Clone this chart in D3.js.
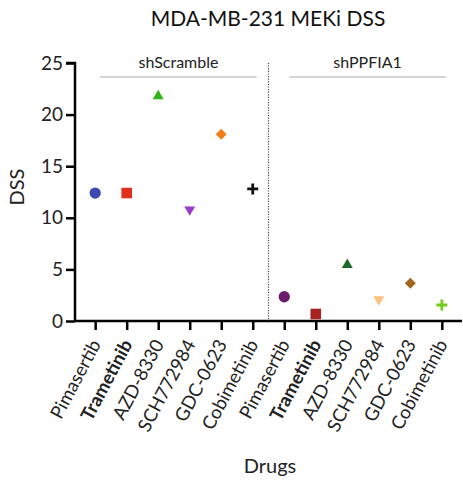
<!DOCTYPE html>
<html>
<head>
<meta charset="utf-8">
<script src="https://cdn.jsdelivr.net/npm/d3@7"></script>
<style>
  body { margin: 0; background: #fff; }
  text { font-family: Lato, "Open Sans", sans-serif; }
</style>
</head>
<body>
<div id="chart"></div>
<script>
// drug names (shown twice, once per group)
var drugs = ["Pimasertib", "Trametinib", "AZD-8330", "SCH772984", "GDC-0623", "Cobimetinib"];
var groups = ["shScramble", "shPPFIA1"];
var scrambleValues = [12.4, 12.4, 21.8, 10.8, 18.1, 12.8];
var ppfiaValues = [2.35, 0.68, 5.45, 2.1, 3.65, 1.55];
var yTicks = [0, 5, 10, 15, 20, 25];

var scrambleColors = ["#3f48b0", "#e0301e", "#2fb515", "#9a3dc8", "#f27e14", "#111111"];
var ppfiaColors = ["#6e1b6b", "#a82222", "#1f6a2b", "#ffc07f", "#a2661f", "#72cc1c"];
var shapes = ["circle", "square", "triangle", "down", "diamond", "plus"];

var svgWidth = 463, svgHeight = 481;
var margin = {top: 63, left: 75, right: 1, bottom: 160};
var width = svgWidth - margin.left - margin.right;
var height = svgHeight - margin.top - margin.bottom;

var svg = d3.select("#chart").append("svg")
  .attr("width", svgWidth)
  .attr("height", svgHeight);

var chartGroup = svg.append("g")
  .attr("transform", `translate(${margin.left}, ${margin.top})`);

// one point per drug per group
var data = [];
groups.forEach(function(g, gi) {
  drugs.forEach(function(d, i) {
    data.push({
      key: g + "|" + d,
      drug: d,
      group: g,
      value: gi === 0 ? scrambleValues[i] : ppfiaValues[i],
      color: gi === 0 ? scrambleColors[i] : ppfiaColors[i],
      shape: shapes[i]
    });
  });
});

var xScale = d3.scalePoint()
  .domain(data.map(d => d.key))
  .range([0, width])
  .padding(0.64);

var yScale = d3.scaleLinear()
  .domain([0, 25])
  .range([height, 0]);

// y axis
var leftAxis = d3.axisLeft(yScale).tickValues(yTicks).tickSize(9).tickPadding(3);
var yAxis = chartGroup.append("g").call(leftAxis);
yAxis.select(".domain").attr("stroke-width", 2.5).attr("d", `M-9,0H0V${height}`);
yAxis.selectAll(".tick line").attr("stroke-width", 2.5);
yAxis.selectAll("text").attr("font-size", "19px").attr("fill", "#222")
  .style("font-family", "Lato, sans-serif");

// x axis
var bottomAxis = d3.axisBottom(xScale).tickSize(9).tickFormat(k => k.split("|")[1]);
var xAxis = chartGroup.append("g")
  .attr("transform", `translate(0, ${height})`)
  .call(bottomAxis);
xAxis.select(".domain").attr("stroke-width", 2.5).attr("d", `M0,0H${width}`);
xAxis.selectAll(".tick line").attr("stroke-width", 2.5);
xAxis.selectAll("text")
  .attr("font-size", "18.5px")
  .attr("fill", "#222")
  .style("font-family", "Lato, sans-serif")
  .attr("font-weight", d => d.split("|")[1] === "Trametinib" ? "bold" : null)
  .attr("text-anchor", "end")
  .attr("dy", "0.35em")
  .attr("transform", "translate(0, 20) rotate(-62)")
  .attr("x", 0)
  .attr("y", 0);

// dotted separator between groups
var keys = xScale.domain();
var sepX = (xScale(keys[5]) + xScale(keys[6])) / 2;
chartGroup.append("line")
  .attr("x1", sepX).attr("x2", sepX)
  .attr("y1", 0).attr("y2", height)
  .attr("stroke", "#444")
  .attr("stroke-width", 1.2)
  .attr("stroke-dasharray", "1.2,1.4");

// group labels with a line underneath
groups.forEach(function(g, gi) {
  var x0 = xScale(keys[gi * 6]) + 5;
  var x1 = xScale(keys[gi * 6 + 5]) + 4;
  chartGroup.append("line")
    .attr("x1", x0).attr("x2", x1)
    .attr("y1", 14).attr("y2", 14)
    .attr("stroke", "#aaa")
    .attr("stroke-width", 1);
  chartGroup.append("text")
    .attr("x", (x0 + x1) / 2)
    .attr("y", 5)
    .attr("text-anchor", "middle")
    .attr("font-size", "16px")
    .attr("fill", "#222")
    .text(g);
});

// markers
function markerPath(shape) {
  if (shape === "plus") return "M-5.5,0H5.5M0,-5.5V5.5";
  if (shape === "circle") return d3.symbol().type(d3.symbolCircle).size(100)();
  if (shape === "square") return d3.symbol().type(d3.symbolSquare).size(112)();
  if (shape === "diamond") return d3.symbol().type(d3.symbolSquare).size(60)();
  return d3.symbol().type(d3.symbolTriangle).size(52)();
}

chartGroup.selectAll(".marker")
  .data(data)
  .enter()
  .append("path")
  .attr("class", "marker")
  .attr("d", d => markerPath(d.shape))
  .attr("transform", function(d) {
    var t = `translate(${xScale(d.key)}, ${yScale(d.value)})`;
    if (d.shape === "down") t += " rotate(180)";
    if (d.shape === "diamond") t += " rotate(45)";
    return t;
  })
  .attr("fill", d => d.shape === "plus" ? "none" : d.color)
  .attr("stroke", d => d.shape === "plus" ? d.color : "none")
  .attr("stroke-width", 2.8);

// title
svg.append("text")
  .attr("x", 268)
  .attr("y", 26)
  .attr("text-anchor", "middle")
  .attr("font-size", "21px")
  .attr("fill", "#111")
  .text("MDA-MB-231 MEKi DSS");

// axis titles
svg.append("text")
  .attr("transform", "rotate(-90)")
  .attr("x", -187)
  .attr("y", 24)
  .attr("text-anchor", "middle")
  .attr("font-size", "20px")
  .attr("fill", "#222")
  .text("DSS");

svg.append("text")
  .attr("x", 270)
  .attr("y", 473)
  .attr("text-anchor", "middle")
  .attr("font-size", "20px")
  .attr("fill", "#222")
  .text("Drugs");
</script>
</body>
</html>
